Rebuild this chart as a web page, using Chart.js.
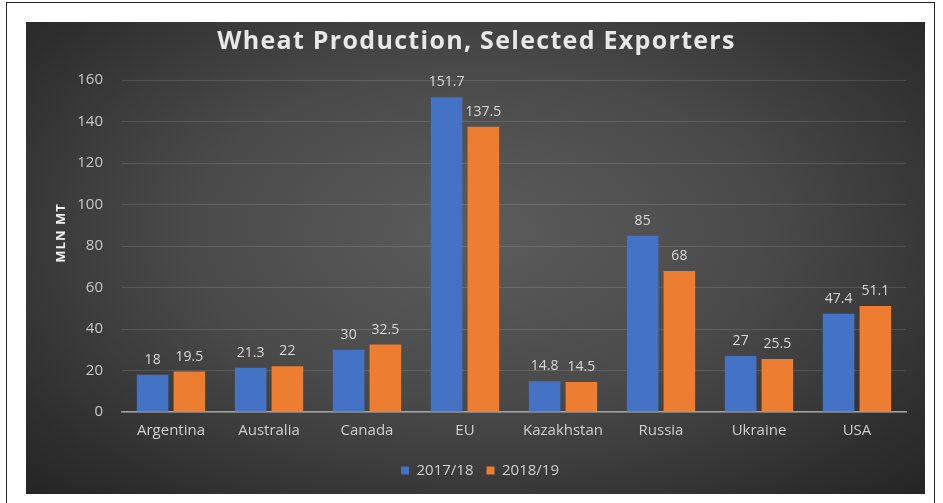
<!DOCTYPE html>
<html>
<head>
<meta charset="utf-8">
<script src="https://cdn.jsdelivr.net/npm/chart.js@4"></script>
<style>
  html,body{margin:0;padding:0;background:#fff;}
  body{width:943px;height:503px;position:relative;overflow:hidden;}
  #frame{position:absolute;left:6px;top:2px;width:929px;height:520px;border:1.5px solid #222;box-sizing:border-box;}
  #panel{position:absolute;left:26px;top:22px;width:899px;height:472px;
    background:radial-gradient(ellipse at 50% 45%, #5c5c5c 0%, #4a4a4a 45%, #2e2e2e 85%, #252525 100%);}
  canvas{display:block;}
</style>
</head>
<body>
<div id="frame"></div>
<div id="panel"><canvas id="c" width="899" height="472"></canvas></div>
<script>
/* ------------ data ------------ */
const COUNTRIES = ['Argentina','Australia','Canada','EU','Kazakhstan','Russia','Ukraine','USA'];
const Y2017     = [18, 21.3, 30, 151.7, 14.8, 85, 27, 47.4];
const Y2018     = [19.5, 22, 32.5, 137.5, 14.5, 68, 25.5, 51.1];
const SERIES    = ['2017/18','2018/19'];
const TITLE     = 'Wheat Production, Selected Exporters';
const Y_TITLE   = 'MLN MT';

const FONT = "'Open Sans', 'Noto Sans', sans-serif";

/* ------------ titles + value labels ------------ */
const textLayer = {
  id:'textLayer',
  afterLayout(chart){
    // legend sits a bit right of centre in the original
    chart.legend.left+=14; chart.legend.right+=14;
  },
  afterDraw(chart){
    const ctx=chart.ctx;
    // chart title (letter-spaced like the original)
    ctx.save();
    ctx.letterSpacing='1.3px';
    ctx.font=`bold 25px ${FONT}`;
    ctx.fillStyle='#e8e8e8';
    ctx.textAlign='center';ctx.textBaseline='middle';
    ctx.fillText(TITLE, chart.width/2+1, 20);
    ctx.restore();
    // y axis title
    ctx.save();
    ctx.letterSpacing='1px';
    ctx.font=`bold 13px ${FONT}`;
    ctx.fillStyle='#efefef';
    ctx.translate(35,211);ctx.rotate(-Math.PI/2);
    ctx.textAlign='center';ctx.textBaseline='middle';
    ctx.fillText(Y_TITLE,0,0);
    ctx.restore();
  },
  afterDatasetsDraw(chart){
    const ctx=chart.ctx;
    ctx.save();
    ctx.font=`14px ${FONT}`;
    ctx.fillStyle='#d9d9d9';
    ctx.textAlign='center';
    ctx.textBaseline='bottom';
    chart.data.datasets.forEach((ds,i)=>{
      chart.getDatasetMeta(i).data.forEach((bar,j)=>{
        ctx.fillText(String(ds.data[j]), bar.x, bar.y-8);
      });
    });
    ctx.restore();
  }
};

new Chart(document.getElementById('c'),{
  type:'bar',
  data:{labels:COUNTRIES,datasets:[
    {label:SERIES[0],data:Y2017,backgroundColor:'#4472C4',categoryPercentage:0.75,barPercentage:0.86},
    {label:SERIES[1],data:Y2018,backgroundColor:'#ED7D31',categoryPercentage:0.75,barPercentage:0.86}]},
  options:{
    responsive:false,animation:false,
    layout:{padding:{top:58,right:19,bottom:6,left:0}},
    plugins:{
      legend:{position:'bottom',labels:{color:'#d0d0d0',font:{family:FONT,size:15},
             boxWidth:8,boxHeight:8,padding:13}},
      tooltip:{enabled:false}
    },
    scales:{
      x:{grid:{display:false,drawTicks:false},border:{color:'#a0a0a0',width:1.5},
         ticks:{color:'#cfcfcf',font:{family:FONT,size:15},padding:10}},
      y:{min:0,max:160,ticks:{stepSize:20,color:'#c8c8c8',font:{family:FONT,size:15},padding:19},
         grid:{color:'rgba(255,255,255,0.12)',drawTicks:false},border:{display:false},
         afterFit(scale){scale.width=96;}}
    }
  },
  plugins:[textLayer]
});
</script>
</body>
</html>
